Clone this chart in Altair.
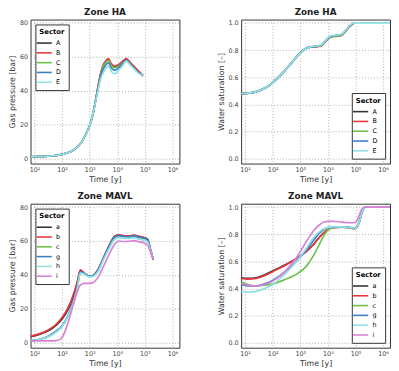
import altair as alt
import pandas as pd

# ---------------- data (time given as log10 of years) ----------------
HA_SECTORS = ["A", "B", "C", "D", "E"]
MAVL_SECTORS = ["a", "b", "c", "g", "h", "i"]
HA_COLORS = ["#333333", "#e8363c", "#6cc04a", "#3b7ec6", "#8fe0e8"]
MAVL_COLORS = ["#333333", "#e8363c", "#6cc04a", "#3b7ec6", "#8fe0e8", "#d982d6"]

# Zone HA - gas pressure [bar]
HA_P_LOGT = [0.86, 1.3, 1.7, 2.0, 2.3, 2.5, 2.7, 2.85, 3.0, 3.1, 3.2, 3.3, 3.4,
             3.5, 3.6, 3.68, 3.78, 3.9, 4.05, 4.2, 4.32, 4.45, 4.6, 4.75, 4.93]
HA_P_A = [1.0, 1.2, 1.6, 2.4, 4.0, 6.0, 9.5, 14, 19.5, 25, 33, 42, 50,
          55, 57.5, 58.5, 55.5, 54, 55, 57, 58.5, 56.5, 54, 51.5, 49]
HA_P_B = [1.0, 1.2, 1.6, 2.4, 4.0, 6.0, 9.5, 14, 19.5, 25, 33, 42.5, 50.5,
          55.5, 58, 59, 56, 54.5, 55.5, 57.5, 59, 57, 54.5, 52, 48.5]
HA_P_C = [1.0, 1.2, 1.6, 2.4, 4.0, 6.0, 9.5, 14, 19.5, 25, 33, 41.5, 49.5,
          54.5, 57, 58, 55, 53.5, 54.5, 56.5, 58, 56, 53.5, 51, 49]
HA_P_D = [1.0, 1.2, 1.6, 2.4, 4.0, 6.0, 9.5, 14, 19.5, 25, 33, 41, 48.5,
          53, 55.5, 56.5, 53.5, 52, 53.5, 56, 58, 56, 53.5, 51, 49]
HA_P_E = [1.0, 1.2, 1.6, 2.4, 4.0, 6.0, 9.5, 14, 19.5, 25, 32.5, 40, 47,
          51, 53.5, 54.5, 51.5, 50, 52, 55, 57.5, 55.5, 53, 50.5, 49]

# Zone HA - water saturation [-]
HA_S_LOGT = [0.86, 1.2, 1.5, 1.8, 2.1, 2.4, 2.7, 3.0, 3.15, 3.3, 3.45, 3.6, 3.75,
             3.9, 4.05, 4.2, 4.35, 4.5, 4.65, 4.8, 4.95, 5.2, 5.6, 6.0, 6.25]
HA_S_A = [0.48, 0.485, 0.50, 0.53, 0.58, 0.64, 0.71, 0.78, 0.805, 0.82, 0.825, 0.828, 0.835,
          0.865, 0.895, 0.905, 0.908, 0.915, 0.945, 0.98, 1.0]
HA_S_B = [0.48, 0.485, 0.50, 0.53, 0.58, 0.64, 0.71, 0.78, 0.805, 0.82, 0.822, 0.825, 0.83,
          0.86, 0.89, 0.9, 0.903, 0.91, 0.94, 0.975, 1.0]
HA_S_C = [0.48, 0.485, 0.50, 0.53, 0.58, 0.64, 0.71, 0.78, 0.805, 0.82, 0.824, 0.827, 0.833,
          0.862, 0.892, 0.902, 0.906, 0.912, 0.943, 0.978, 1.0]
HA_S_D = [0.48, 0.485, 0.50, 0.53, 0.58, 0.64, 0.71, 0.78, 0.805, 0.82, 0.826, 0.829, 0.836,
          0.866, 0.896, 0.906, 0.909, 0.916, 0.946, 0.981, 1.0]
HA_S_E = [0.48, 0.485, 0.50, 0.53, 0.58, 0.64, 0.71, 0.78, 0.805, 0.82, 0.827, 0.83, 0.838,
          0.868, 0.898, 0.908, 0.911, 0.918, 0.948, 0.982, 1.0, 1.0, 1.0, 1.0, 1.0]

# Zone MAVL - gas pressure [bar]
MAVL_P_LOGT = [0.86, 1.2, 1.5, 1.8, 2.0, 2.2, 2.4, 2.55, 2.66, 2.8, 2.95, 3.1, 3.3,
               3.5, 3.7, 3.9, 4.05, 4.2, 4.4, 4.6, 4.8, 4.95, 5.1, 5.2, 5.3]
MAVL_P_a = [3.5, 5, 7, 10.5, 14, 19, 27, 35, 42.5, 41, 39.5, 39.5, 43,
            50, 57, 62.5, 63.5, 63, 62.8, 63.2, 62.5, 62, 61, 55, 49]
MAVL_P_b = [3.8, 5.3, 7.5, 11, 14.8, 20, 28, 36, 43, 41.2, 39.5, 39.5, 43,
            50, 57, 62.8, 63.8, 63.2, 63, 63.5, 62.8, 62.2, 61, 55, 49]
MAVL_P_c = [1, 2, 3.5, 6.5, 9.5, 15, 23, 32, 41.5, 41, 39.5, 39.5, 42.5,
            49.5, 56.5, 62, 63, 62.5, 62.3, 62.8, 62, 61.5, 60.5, 55, 49.5]
MAVL_P_g = [1, 2, 3.8, 7, 10, 15.5, 24, 33, 41.8, 41, 39.5, 39.5, 42.8,
            49.8, 56.8, 62.3, 63.3, 62.8, 62.5, 63, 62.2, 61.8, 60.8, 55, 49.5]
MAVL_P_h = [1, 2, 3.5, 6.5, 9.5, 15, 23, 32, 41, 40.5, 39, 39, 42,
            49, 55.5, 61, 62, 61.5, 61.5, 61.8, 61, 60.5, 59.5, 54.5, 49.5]
MAVL_P_i = [1, 1, 1, 1.2, 3, 11, 22, 30, 34, 35, 35, 35.3, 38.5,
            45, 52, 58, 60, 59.7, 59.8, 60.2, 59.5, 59, 57.5, 53.5, 49.5]

# Zone MAVL - water saturation [-]
MAVL_S_LOGT = [0.86, 1.1, 1.4, 1.7, 2.0, 2.3, 2.6, 2.9, 3.2, 3.5, 3.7, 3.85, 4.0,
               4.2, 4.5, 4.8, 4.95, 5.05, 5.15, 5.25, 5.35, 5.6, 6.0, 6.25]
MAVL_S_a = [0.48, 0.475, 0.48, 0.5, 0.53, 0.56, 0.59, 0.625, 0.67, 0.73, 0.78, 0.81, 0.835,
            0.85, 0.855, 0.85, 0.845, 0.855, 0.9, 0.97, 1.0, 1.0, 1.0, 1.0]
MAVL_S_b = [0.475, 0.47, 0.475, 0.495, 0.525, 0.555, 0.59, 0.625, 0.67, 0.73, 0.78, 0.81, 0.835,
            0.848, 0.852, 0.848, 0.84, 0.85, 0.9, 0.97, 1.0, 1.0, 1.0, 1.0]
MAVL_S_c = [0.45, 0.43, 0.42, 0.425, 0.435, 0.455, 0.48, 0.51, 0.56, 0.65, 0.73, 0.79, 0.83,
            0.85, 0.852, 0.848, 0.842, 0.852, 0.9, 0.97, 1.0, 1.0, 1.0, 1.0]
MAVL_S_g = [0.43, 0.42, 0.42, 0.435, 0.46, 0.5, 0.55, 0.61, 0.68, 0.76, 0.81, 0.835, 0.85,
            0.855, 0.855, 0.85, 0.845, 0.855, 0.9, 0.97, 1.0, 1.0, 1.0, 1.0]
MAVL_S_h = [0.38, 0.375, 0.38, 0.4, 0.43, 0.48, 0.54, 0.61, 0.69, 0.78, 0.82, 0.84, 0.85,
            0.855, 0.855, 0.85, 0.845, 0.855, 0.9, 0.97, 1.0, 1.0, 1.0, 1.0]
MAVL_S_i = [0.44, 0.425, 0.42, 0.43, 0.455, 0.5, 0.56, 0.64, 0.74, 0.83, 0.87, 0.89, 0.895,
            0.895, 0.89, 0.885, 0.885, 0.9, 0.95, 0.99, 1.0, 1.0, 1.0, 1.0]

X_TICKS = [10, 100, 1000, 10000, 100000, 1000000]
P_TICKS = [0, 20, 40, 60, 80]
S_TICKS = [0, 0.2, 0.4, 0.6, 0.8, 1.0]


def frame(logt, series, names):
    rows = []
    for k, (name, vals) in enumerate(zip(names, series)):
        for j, v in enumerate(vals):
            rows.append({"t": 10 ** logt[j], "v": v, "Sector": name, "o": k})
    return pd.DataFrame(rows)


FONT = "DejaVu Sans"
W, H = 152, 147


def panel(df, title, ytitle, yticks, ydomain, yfmt, names, colors, legend_orient):
    sup = "['⁰','¹','²','³','⁴','⁵','⁶']"
    return alt.Chart(df).mark_line(strokeWidth=1.7, interpolate="monotone", clip=True).encode(
        x=alt.X("t:Q", scale=alt.Scale(type="log", domain=[7.2, 1.78e6], nice=False),
                axis=alt.Axis(values=X_TICKS, title="Time [y]",
                              labelExpr="'10' + " + sup + "[round(log(datum.value)/LN10)]")),
        y=alt.Y("v:Q", scale=alt.Scale(domain=ydomain, nice=False, zero=False),
                axis=alt.Axis(values=yticks, title=ytitle, format=yfmt)),
        color=alt.Color("Sector:N", scale=alt.Scale(domain=names, range=colors),
                        legend=alt.Legend(title="Sector", orient=legend_orient,
                                          symbolType="M-2,0L2,0", symbolSize=60,
                                          symbolStrokeWidth=1.6,
                                          strokeColor="#333", fillColor="white",
                                          padding=4, offset=5, rowPadding=1,
                                          labelFontSize=6.5, titleFontSize=7,
                                          titlePadding=3, labelOffset=7,
                                          titleFont=FONT, labelFont=FONT,
                                          titleFontWeight="bold")),
        order="o:Q",
    ).properties(width=W, height=H, title=title)


ha_p = frame(HA_P_LOGT, [HA_P_A, HA_P_B, HA_P_C, HA_P_D, HA_P_E], HA_SECTORS)
ha_s = frame(HA_S_LOGT, [HA_S_A, HA_S_B, HA_S_C, HA_S_D, HA_S_E], HA_SECTORS)
mv_p = frame(MAVL_P_LOGT, [MAVL_P_a, MAVL_P_b, MAVL_P_c, MAVL_P_g, MAVL_P_h, MAVL_P_i], MAVL_SECTORS)
mv_s = frame(MAVL_S_LOGT, [MAVL_S_a, MAVL_S_b, MAVL_S_c, MAVL_S_g, MAVL_S_h, MAVL_S_i], MAVL_SECTORS)

p1 = panel(ha_p, "Zone HA", "Gas pressure [bar]", P_TICKS, [-3, 82], "d",
           HA_SECTORS, HA_COLORS, "top-left")
p2 = panel(ha_s, "Zone HA", "Water saturation [–]", S_TICKS, [-0.035, 1.025], ".1f",
           HA_SECTORS, HA_COLORS, "bottom-right")
p3 = panel(mv_p, "Zone MAVL", "Gas pressure [bar]", P_TICKS, [-3, 82], "d",
           MAVL_SECTORS, MAVL_COLORS, "top-left")
p4 = panel(mv_s, "Zone MAVL", "Water saturation [–]", S_TICKS, [-0.035, 1.025], ".1f",
           MAVL_SECTORS, MAVL_COLORS, "bottom-right")

chart = alt.concat(p1, p2, p3, p4, columns=2,
                   spacing=alt.RowColnumber(row=41, column=63), bounds="flush").resolve_scale(
    color="independent").properties(
    padding={"top": -5, "left": 0, "right": 0, "bottom": 0}).configure_axis(
    labelFont=FONT, titleFont=FONT, labelFontSize=6.5, titleFontSize=8,
    titleFontWeight="normal", labelColor="#444", titleColor="#333",
    grid=True, gridColor="#999", gridDash=[1, 2], gridOpacity=0.8,
    domain=False, ticks=False,
    labelPadding=3, titlePadding=3,
).configure_view(stroke="#333", strokeWidth=1).configure_title(
    font=FONT, fontSize=9, fontWeight="bold", color="#222", offset=3
)

chart.save("out.html", embed_options={"renderer": "svg", "actions": False})
